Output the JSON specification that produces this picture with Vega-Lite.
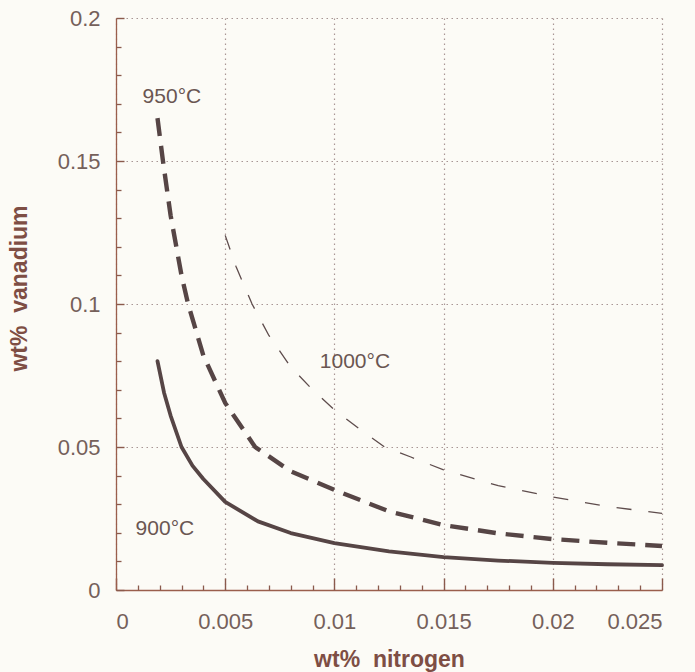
{
  "$schema": "https://vega.github.io/schema/vega-lite/v6.json",
  "width": 546,
  "height": 572,
  "autosize": {"type": "none"},
  "padding": {"left": 116, "top": 18, "right": 33, "bottom": 82},
  "background": "#fcfbf6",
  "config": {
    "view": {"stroke": null},
    "font": "Liberation Sans",
    "axis": {
      "labelFont": "Liberation Sans",
      "titleFont": "Liberation Sans",
      "labelColor": "#75605a",
      "titleColor": "#7e4e44",
      "domainColor": "#9a5e4c",
      "domainWidth": 1.3,
      "gridColor": "#a89694",
      "gridDash": [1.5, 3.5],
      "gridWidth": 1.2,
      "labelFontSize": 22,
      "titleFontSize": 23,
      "titleFontWeight": "bold"
    }
  },
  "datasets": {
    "curves": [
      {"n": 0.0019, "v": 0.080, "t": "900"},
      {"n": 0.0022, "v": 0.069, "t": "900"},
      {"n": 0.0025, "v": 0.061, "t": "900"},
      {"n": 0.0030, "v": 0.050, "t": "900"},
      {"n": 0.0035, "v": 0.0435, "t": "900"},
      {"n": 0.0040, "v": 0.0388, "t": "900"},
      {"n": 0.0050, "v": 0.0308, "t": "900"},
      {"n": 0.0065, "v": 0.0240, "t": "900"},
      {"n": 0.0080, "v": 0.0199, "t": "900"},
      {"n": 0.0100, "v": 0.0164, "t": "900"},
      {"n": 0.0125, "v": 0.0135, "t": "900"},
      {"n": 0.0150, "v": 0.0115, "t": "900"},
      {"n": 0.0175, "v": 0.0103, "t": "900"},
      {"n": 0.0200, "v": 0.0095, "t": "900"},
      {"n": 0.0225, "v": 0.0090, "t": "900"},
      {"n": 0.0250, "v": 0.0087, "t": "900"},
      {"n": 0.0019, "v": 0.165, "t": "950"},
      {"n": 0.00215, "v": 0.150, "t": "950"},
      {"n": 0.0025, "v": 0.131, "t": "950"},
      {"n": 0.0030, "v": 0.110, "t": "950"},
      {"n": 0.0033, "v": 0.100, "t": "950"},
      {"n": 0.0040, "v": 0.082, "t": "950"},
      {"n": 0.0050, "v": 0.0654, "t": "950"},
      {"n": 0.00637, "v": 0.050, "t": "950"},
      {"n": 0.0080, "v": 0.0415, "t": "950"},
      {"n": 0.0100, "v": 0.0350, "t": "950"},
      {"n": 0.0125, "v": 0.0275, "t": "950"},
      {"n": 0.0150, "v": 0.0227, "t": "950"},
      {"n": 0.0175, "v": 0.0198, "t": "950"},
      {"n": 0.0200, "v": 0.0178, "t": "950"},
      {"n": 0.0225, "v": 0.0165, "t": "950"},
      {"n": 0.0250, "v": 0.0154, "t": "950"},
      {"n": 0.0050, "v": 0.124, "t": "1000"},
      {"n": 0.0055, "v": 0.113, "t": "1000"},
      {"n": 0.00623, "v": 0.100, "t": "1000"},
      {"n": 0.0070, "v": 0.089, "t": "1000"},
      {"n": 0.0080, "v": 0.078, "t": "1000"},
      {"n": 0.0090, "v": 0.070, "t": "1000"},
      {"n": 0.0100, "v": 0.063, "t": "1000"},
      {"n": 0.0112, "v": 0.056, "t": "1000"},
      {"n": 0.0123, "v": 0.050, "t": "1000"},
      {"n": 0.0135, "v": 0.0465, "t": "1000"},
      {"n": 0.0150, "v": 0.0420, "t": "1000"},
      {"n": 0.0175, "v": 0.0365, "t": "1000"},
      {"n": 0.0200, "v": 0.0325, "t": "1000"},
      {"n": 0.0225, "v": 0.0292, "t": "1000"},
      {"n": 0.0250, "v": 0.0268, "t": "1000"}
    ],
    "labels": [
      {"n": 0.00256, "v": 0.1724, "label": "950°C"},
      {"n": 0.01094, "v": 0.0797, "label": "1000°C"},
      {"n": 0.00224, "v": 0.0215, "label": "900°C"}
    ]
  },
  "layer": [
    {
      "data": {"name": "curves"},
      "transform": [{"filter": "datum.t == '900'"}],
      "mark": {"type": "line", "color": "#564545", "strokeWidth": 3.8, "strokeCap": "round", "strokeJoin": "round"},
      "encoding": {
        "x": {
          "field": "n", "type": "quantitative",
          "scale": {"domain": [0, 0.025], "nice": false, "zero": false},
          "axis": {
            "orient": "bottom",
            "title": "wt%\u00a0 nitrogen",
            "values": [0, 0.005, 0.01, 0.015, 0.02, 0.025],
            "format": "~g",
            "ticks": false,
            "labelPadding": 21,
            "titlePadding": 16,
            "grid": true
          }
        },
        "y": {
          "field": "v", "type": "quantitative",
          "scale": {"domain": [0, 0.2], "nice": false},
          "axis": {
            "orient": "left",
            "title": "wt%\u00a0 vanadium",
            "titleY": 270,
            "values": [0, 0.05, 0.1, 0.15, 0.2],
            "format": "~g",
            "ticks": false,
            "labelPadding": 16,
            "titlePadding": 26,
            "grid": true
          }
        }
      }
    },
    {
      "data": {"name": "curves"},
      "transform": [{"filter": "datum.t == '950'"}],
      "mark": {"type": "line", "color": "#564545", "strokeWidth": 4.4, "strokeDash": [18, 10], "strokeCap": "butt"},
      "encoding": {
        "x": {
          "field": "n", "type": "quantitative",
          "axis": {
            "orient": "top", "offset": -572,
            "title": null, "labels": false, "domain": false, "gridOpacity": 0,
            "values": [0, 0.005, 0.01, 0.015, 0.02, 0.025],
            "tickSize": 12, "tickColor": "#8a5a4c", "tickWidth": 1.4
          }
        },
        "y": {
          "field": "v", "type": "quantitative",
          "axis": {
            "orient": "right", "offset": -546,
            "title": null, "labels": false, "domain": false, "gridOpacity": 0,
            "values": [0, 0.05, 0.1, 0.15, 0.2],
            "tickSize": 8, "tickColor": "#8a5a4c", "tickWidth": 1.4
          }
        }
      }
    },
    {
      "data": {"name": "curves"},
      "transform": [{"filter": "datum.t == '1000'"}],
      "mark": {"type": "line", "color": "#5e4c4c", "strokeWidth": 1.3, "strokeDash": [15, 17], "strokeCap": "butt"},
      "encoding": {
        "x": {
          "field": "n", "type": "quantitative",
          "axis": {
            "orient": "top", "offset": -572,
            "title": null, "labels": false, "domain": false, "gridOpacity": 0,
            "values": [0.001, 0.002, 0.003, 0.004, 0.006, 0.007, 0.008, 0.009, 0.011, 0.012, 0.013, 0.014, 0.016, 0.017, 0.018, 0.019, 0.021, 0.022, 0.023, 0.024],
            "tickSize": 5, "tickColor": "#8a5a4c", "tickWidth": 1.3
          }
        },
        "y": {
          "field": "v", "type": "quantitative",
          "axis": {
            "orient": "right", "offset": -546,
            "title": null, "labels": false, "domain": false, "gridOpacity": 0,
            "values": [0.01, 0.02, 0.03, 0.04, 0.06, 0.07, 0.08, 0.09, 0.11, 0.12, 0.13, 0.14, 0.16, 0.17, 0.18, 0.19],
            "tickSize": 5, "tickColor": "#8a5a4c", "tickWidth": 1.3
          }
        }
      }
    },
    {
      "data": {"name": "labels"},
      "mark": {"type": "text", "fontSize": 21, "color": "#6a5652", "font": "Liberation Sans"},
      "encoding": {
        "x": {"field": "n", "type": "quantitative", "axis": null},
        "y": {"field": "v", "type": "quantitative", "axis": null},
        "text": {"field": "label"}
      }
    }
  ],
  "resolve": {"axis": {"x": "independent", "y": "independent"}}
}
